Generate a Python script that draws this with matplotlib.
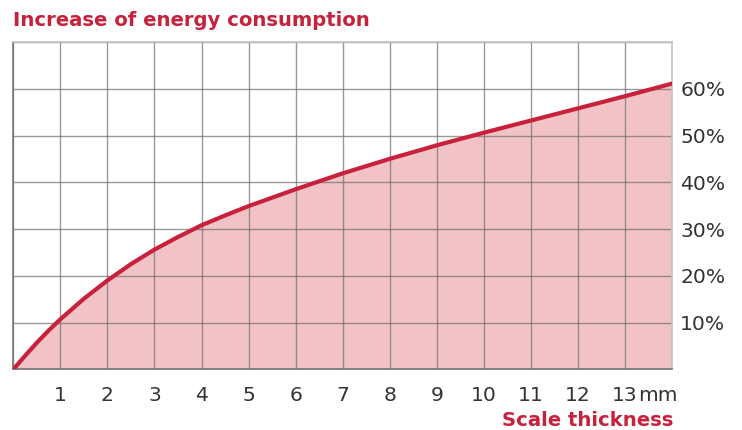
import numpy as np
import matplotlib.pyplot as plt
from matplotlib import transforms

# scale thickness (mm) vs. extra energy use (%)
thickness = [0, 0.25, 0.5, 0.75, 1, 1.5, 2, 2.5, 3, 3.5, 4, 4.5, 5, 6, 7, 8,
             9, 10, 11, 12, 13, 14]
increase = [0, 2.9, 5.7, 8.3, 10.7, 15.1, 19.0, 22.5, 25.6, 28.3, 30.8, 32.9,
            34.9, 38.5, 41.9, 45.0, 47.9, 50.6, 53.2, 55.8, 58.4, 61.1]
xticks = list(range(1, 14))
yticks = [10, 20, 30, 40, 50, 60]

red = '#c8213c'
pink = '#f2c3c6'
grey = '#333333'

plt.rcParams['font.family'] = ['DejaVu Sans']

fig = plt.figure(figsize=(7.42, 4.30), dpi=100)
ax = fig.add_axes([0.018, 0.1412, 0.8875, 0.7611])

ax.fill_between(thickness, increase, 0, color=pink, lw=0, zorder=1)
for x in range(0, 15):
    ax.axvline(x, color='#6e6e6e', lw=1.0, alpha=0.7, zorder=2)
for y in range(0, 80, 10):
    ax.axhline(y, color='#6e6e6e', lw=1.0, alpha=0.7, zorder=2)
ax.plot(thickness, increase, color=red, lw=3.0, solid_capstyle='round',
        solid_joinstyle='round', zorder=3)

ax.set_xlim(0, 14)
ax.set_ylim(0, 70)
for side in ['left', 'bottom']:
    ax.spines[side].set_color('#777777')
for side in ['top', 'right']:
    ax.spines[side].set_color('#c4c4c4')
for s in ax.spines.values():
    s.set_linewidth(1.2)
    s.set_zorder(2)

ax.yaxis.tick_right()
ax.set_yticks(yticks)
ax.set_yticklabels([f'{v}%' for v in yticks])
ax.set_xticks(xticks)
ax.set_xticklabels([str(v) for v in xticks])
ax.tick_params(axis='both', length=0, labelsize=14.6, labelcolor=grey)
ax.tick_params(axis='x', pad=12)
ax.tick_params(axis='y', pad=6)

# unit right after the last tick label
off = transforms.offset_copy(ax.get_xaxis_transform(), fig=fig, x=9.3, y=-12, units='points')
ax.text(13, 0, 'mm', transform=off, ha='left', va='top', fontsize=14.6, color=grey)

fig.text(13 / 742, 1 - 20 / 430, 'Increase of energy consumption', ha='left', va='center',
         fontsize=14.1, fontweight='bold', color=red)
fig.text(673 / 742, 1 - 421 / 430, 'Scale thickness', ha='right', va='center',
         fontsize=14.1, fontweight='bold', color=red)

fig.savefig('out.png', dpi=100)
